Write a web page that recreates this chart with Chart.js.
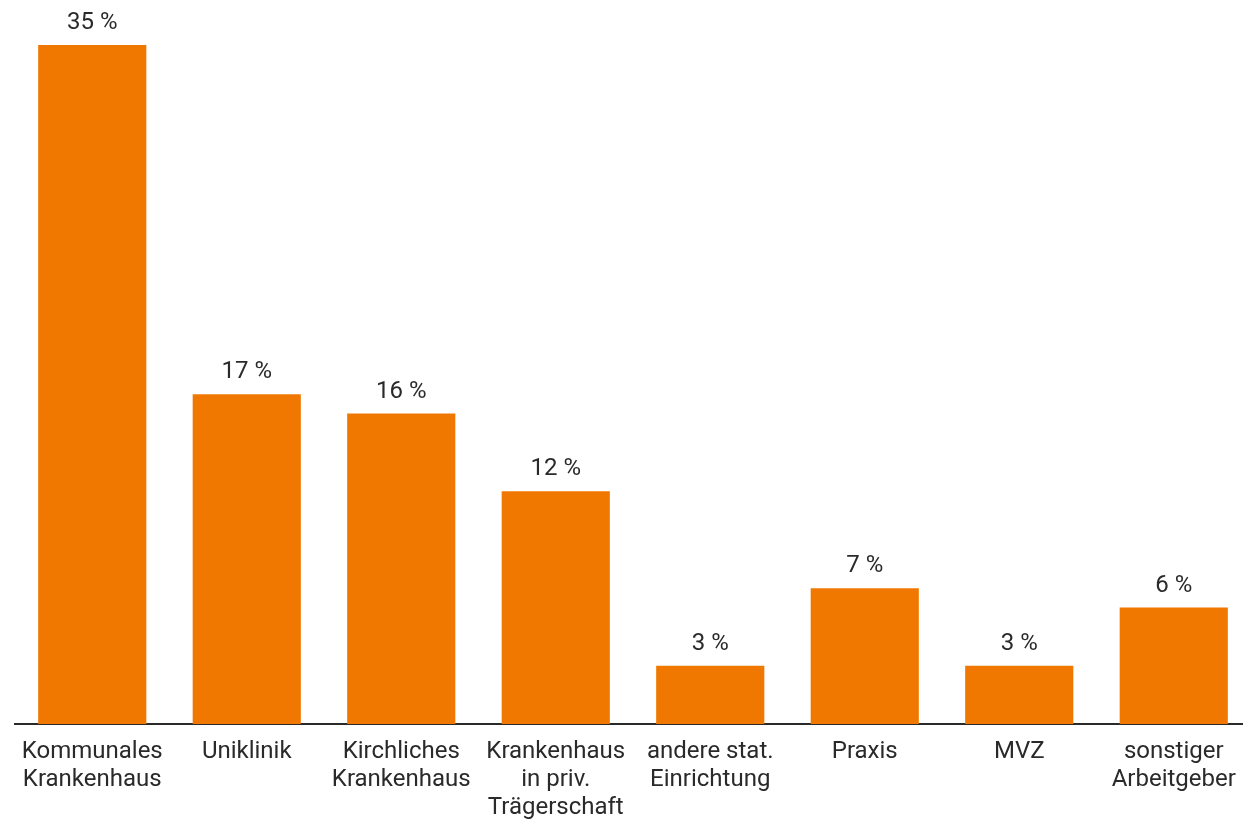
<!DOCTYPE html>
<html><head><meta charset="utf-8">
<script src="https://cdn.jsdelivr.net/npm/chart.js@4"></script>
<style>
html,body{margin:0;padding:0;background:#fff;overflow:hidden;}
#wrap{width:1251px;height:836px;position:relative;}
</style></head>
<body><div id="wrap"><canvas id="c"></canvas></div>
<script>
const categories = [
  ["Kommunales","Krankenhaus"],
  ["Uniklinik"],
  ["Kirchliches","Krankenhaus"],
  ["Krankenhaus","in priv.","Trägerschaft"],
  ["andere stat.","Einrichtung"],
  ["Praxis"],
  ["MVZ"],
  ["sonstiger","Arbeitgeber"]
];
const values = [35, 17, 16, 12, 3, 7, 3, 6];
const valueLabels = ["35 %","17 %","16 %","12 %","3 %","7 %","3 %","6 %"];

const barLabels = {
  id: 'barLabels',
  afterDatasetsDraw(chart) {
    const ctx = chart.ctx;
    const meta = chart.getDatasetMeta(0);
    ctx.save();
    ctx.font = '24px Roboto';
    ctx.fillStyle = '#2a2a2a';
    ctx.textAlign = 'center';
    ctx.textBaseline = 'middle';
    meta.data.forEach((bar, i) => {
      ctx.fillText(valueLabels[i], bar.x, bar.y - 22);
    });
    ctx.restore();
  }
};

new Chart(document.getElementById('c'), {
  type: 'bar',
  data: {
    labels: categories,
    datasets: [{
      data: values,
      backgroundColor: '#F07800',
      borderWidth: 0,
      categoryPercentage: 0.7,
      barPercentage: 1.0
    }]
  },
  options: {
    responsive: true,
    maintainAspectRatio: false,
    animation: false,
    layout: { padding: { top: 45, left: 15, right: 0, bottom: 0 } },
    plugins: { legend: { display: false }, tooltip: { enabled: false } },
    scales: {
      x: {
        grid: { display: false, drawTicks: false },
        border: { display: true, color: '#2a2a2a', width: 2 },
        ticks: {
          color: '#2a2a2a',
          font: { family: 'Roboto', size: 24, lineHeight: 1.1667 },
          padding: 14,
          maxRotation: 0,
          autoSkip: false
        }
      },
      y: {
        display: false,
        min: 0,
        max: 35
      }
    }
  },
  plugins: [barLabels]
});
</script>
</body></html>
